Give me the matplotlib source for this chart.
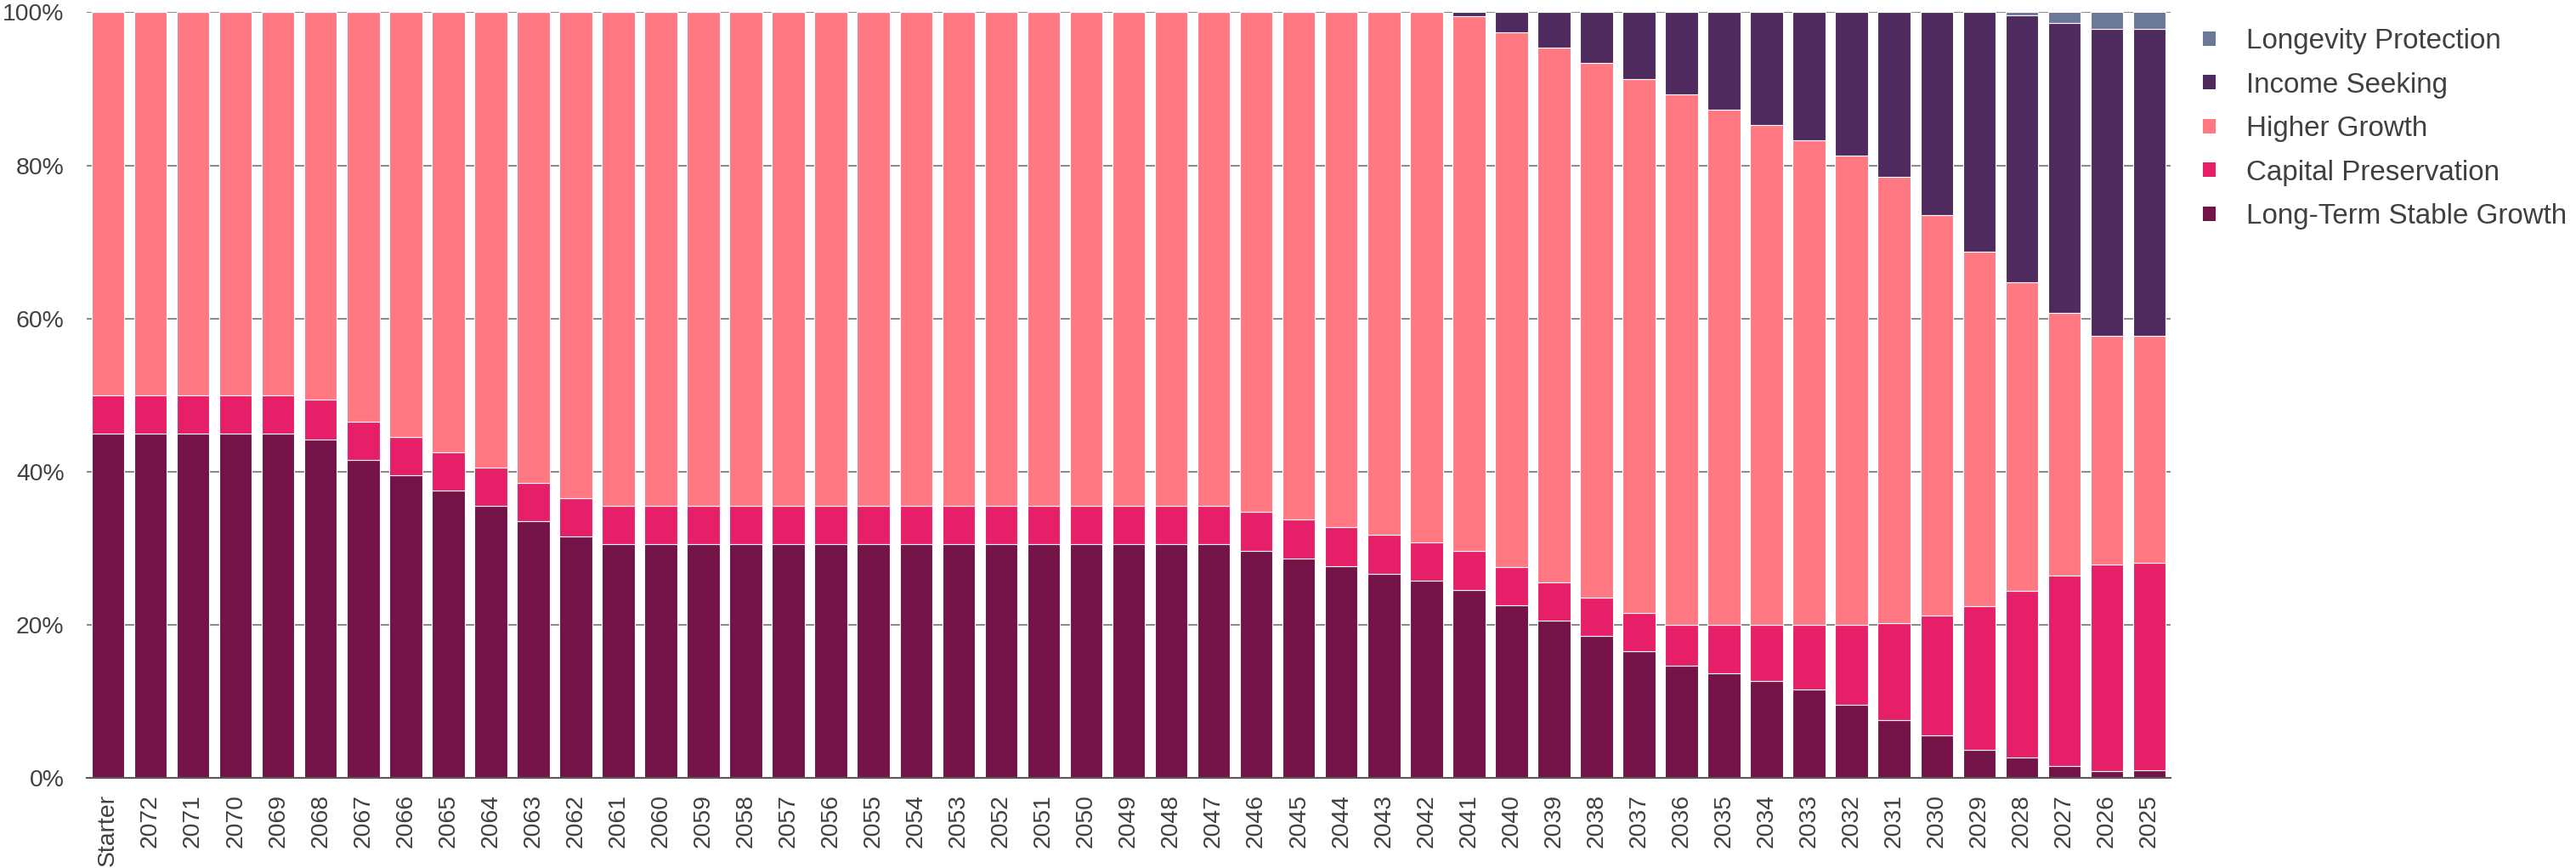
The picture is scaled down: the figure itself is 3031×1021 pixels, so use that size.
import matplotlib
matplotlib.use("Agg")
import matplotlib.pyplot as plt
from matplotlib.patches import Patch
import numpy as np

plt.rcParams['font.family'] = ['Liberation Sans', 'DejaVu Sans']

categories = ["Starter", "2072", "2071", "2070", "2069", "2068", "2067", "2066", "2065",
              "2064", "2063", "2062", "2061", "2060", "2059", "2058", "2057", "2056",
              "2055", "2054", "2053", "2052", "2051", "2050", "2049", "2048", "2047",
              "2046", "2045", "2044", "2043", "2042", "2041", "2040", "2039", "2038",
              "2037", "2036", "2035", "2034", "2033", "2032", "2031", "2030", "2029",
              "2028", "2027", "2026", "2025"]

long_term_stable_growth = [45, 45, 45, 45, 45, 44.2, 41.5, 39.5, 37.5,
                           35.5, 33.5, 31.5, 30.5, 30.5, 30.5, 30.5, 30.5, 30.5,
                           30.5, 30.5, 30.5, 30.5, 30.5, 30.5, 30.5, 30.5, 30.5,
                           29.7, 28.7, 27.7, 26.7, 25.8, 24.5, 22.5, 20.5, 18.5,
                           16.5, 14.7, 13.7, 12.7, 11.5, 9.5, 7.5, 5.5, 3.7,
                           2.7, 1.6, 0.9, 1.0]

capital_preservation = [5, 5, 5, 5, 5, 5.2, 5, 5, 5,
                        5, 5, 5, 5, 5, 5, 5, 5, 5,
                        5, 5, 5, 5, 5, 5, 5, 5, 5,
                        5.1, 5.1, 5.1, 5.1, 5.0, 5.1, 5.0, 5.0, 5.0,
                        5.0, 5.3, 6.3, 7.3, 8.5, 10.5, 12.7, 15.7, 18.7,
                        21.7, 24.8, 27.0, 27.1]

higher_growth = [50, 50, 50, 50, 50, 50.6, 53.5, 55.5, 57.5,
                 59.5, 61.5, 63.5, 64.5, 64.5, 64.5, 64.5, 64.5, 64.5,
                 64.5, 64.5, 64.5, 64.5, 64.5, 64.5, 64.5, 64.5, 64.5,
                 65.2, 66.2, 67.2, 68.2, 69.2, 69.9, 69.9, 69.9, 69.9,
                 69.8, 69.3, 67.3, 65.3, 63.3, 61.3, 58.3, 52.3, 46.3,
                 40.3, 34.3, 29.8, 29.6]

income_seeking = [0, 0, 0, 0, 0, 0, 0, 0, 0,
                  0, 0, 0, 0, 0, 0, 0, 0, 0,
                  0, 0, 0, 0, 0, 0, 0, 0, 0,
                  0, 0, 0, 0, 0, 0.5, 2.6, 4.6, 6.6,
                  8.7, 10.7, 12.7, 14.7, 16.7, 18.7, 21.5, 26.5, 31.3,
                  34.9, 37.9, 40.1, 40.1]

longevity_protection = [0, 0, 0, 0, 0, 0, 0, 0, 0,
                        0, 0, 0, 0, 0, 0, 0, 0, 0,
                        0, 0, 0, 0, 0, 0, 0, 0, 0,
                        0, 0, 0, 0, 0, 0, 0, 0, 0,
                        0, 0, 0, 0, 0, 0, 0, 0, 0,
                        0.4, 1.4, 2.2, 2.2]

series_names = ["Long-Term Stable Growth", "Capital Preservation", "Higher Growth",
                "Income Seeking", "Longevity Protection"]
series_values = [long_term_stable_growth, capital_preservation, higher_growth,
                 income_seeking, longevity_protection]
series_colors = ["#731347", "#E61F68", "#FF7882", "#4F2A5E", "#6C7898"]

yticks = [0, 20, 40, 60, 80, 100]
ytick_labels = ["0%", "20%", "40%", "60%", "80%", "100%"]

W, H = 3031, 1021
fig = plt.figure(figsize=(W / 100, H / 100), dpi=100)
ax = fig.add_axes([102 / W, 1 - 915 / H, (2554 - 102) / W, (915 - 14.5) / H])

x = np.arange(len(categories))
bottom = np.zeros(len(categories))
for name, vals, col in zip(series_names, series_values, series_colors):
    v = np.array(vals, dtype=float)
    ax.bar(x, v, width=0.77, bottom=bottom, color=col, edgecolor="white",
           linewidth=0.8, label=name, zorder=3)
    bottom += v

ax.set_xlim(-0.5, len(categories) - 0.5)
ax.set_ylim(0, 100)
ax.set_yticks(yticks)
ax.set_yticklabels(ytick_labels)
ax.set_xticks(x)
ax.set_xticklabels(categories, rotation=90, va="top", ha="center")

ax.yaxis.grid(True, color="#8C8C8C", linewidth=1.5, zorder=0)
ax.set_axisbelow(True)
for s in ["top", "right", "left"]:
    ax.spines[s].set_visible(False)
ax.spines["bottom"].set_color("#595959")
ax.spines["bottom"].set_linewidth(1.5)
ax.spines["bottom"].set_zorder(4)

ax.tick_params(axis="y", length=0, pad=19, labelsize=20.4, labelcolor="#404040")
ax.tick_params(axis="x", length=0, pad=13.5, labelsize=20.4, labelcolor="#404040")

handles = [Patch(facecolor=c, edgecolor="none") for c in series_colors][::-1]
labels = series_names[::-1]
leg = ax.legend(handles, labels, loc="upper left",
                bbox_to_anchor=(2592 / W, 1 - 33 / H), bbox_transform=fig.transFigure,
                frameon=False, fontsize=23.9, labelcolor="#404040",
                handlelength=0.45, handleheight=0.42, handletextpad=1.08,
                labelspacing=0.62, borderpad=0, borderaxespad=0)

fig.savefig("out.png", dpi=100)
